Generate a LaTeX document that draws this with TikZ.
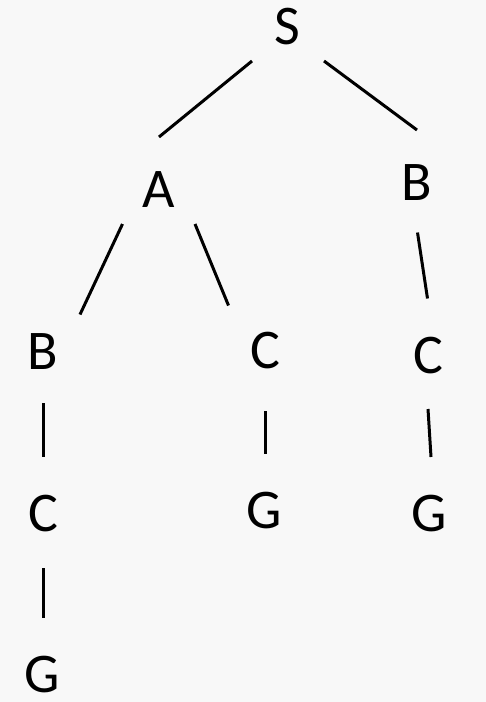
\documentclass[tikz,border=0pt]{standalone}
\usepackage{fontspec}
\setmainfont{Carlito}
\definecolor{bgcol}{HTML}{F8F8F8}
\begin{document}
\begin{tikzpicture}[x=1pt,y=-1pt,
  letter/.style={inner sep=0pt,outer sep=0pt,font=\fontsize{56}{60}\selectfont},
  edge/.style={line width=3pt,black}]
\fill[bgcol] (0,0) rectangle (486,702);
\useasboundingbox (0,0) rectangle (486,702);
\node[letter] (S)  at (287,27)    {S};
\node[letter] (A)  at (158.5,190) {A};
\node[letter] (Br) at (417,182.5) {B};
\node[letter] (Bl) at (43,352)    {B};
\node[letter] (Cm) at (265,351)   {C};
\node[letter] (Cr) at (428,355.5) {C};
\node[letter] (Cl) at (43,514)    {C};
\node[letter] (Gm) at (264.5,511) {G};
\node[letter] (Gr) at (429,513.5) {G};
\node[letter] (Gl) at (42.5,675)  {G};
\draw[edge] ([shift={(-35,34)}]S.center) -- ([shift={(0.5,-53)}]A.center);
\draw[edge] ([shift={(37,34)}]S.center) -- ([shift={(0,-52.5)}]Br.center);
\draw[edge] ([shift={(-36,34)}]A.center) -- ([shift={(37,-37.5)}]Bl.center);
\draw[edge] ([shift={(36.5,34)}]A.center) -- ([shift={(-36.5,-45.5)}]Cm.center);
\draw[edge] ([shift={(0.5,50)}]Br.center) -- ([shift={(-0.5,-57)}]Cr.center);
\draw[edge] ([shift={(0,51)}]Bl.center) -- ([shift={(0,-57)}]Cl.center);
\draw[edge] ([shift={(0,60)}]Cm.center) -- ([shift={(0.5,-57)}]Gm.center);
\draw[edge] ([shift={(0,53.5)}]Cr.center) -- ([shift={(2,-56.5)}]Gr.center);
\draw[edge] ([shift={(0,54)}]Cl.center) -- ([shift={(0.5,-57)}]Gl.center);
\end{tikzpicture}
\end{document}
